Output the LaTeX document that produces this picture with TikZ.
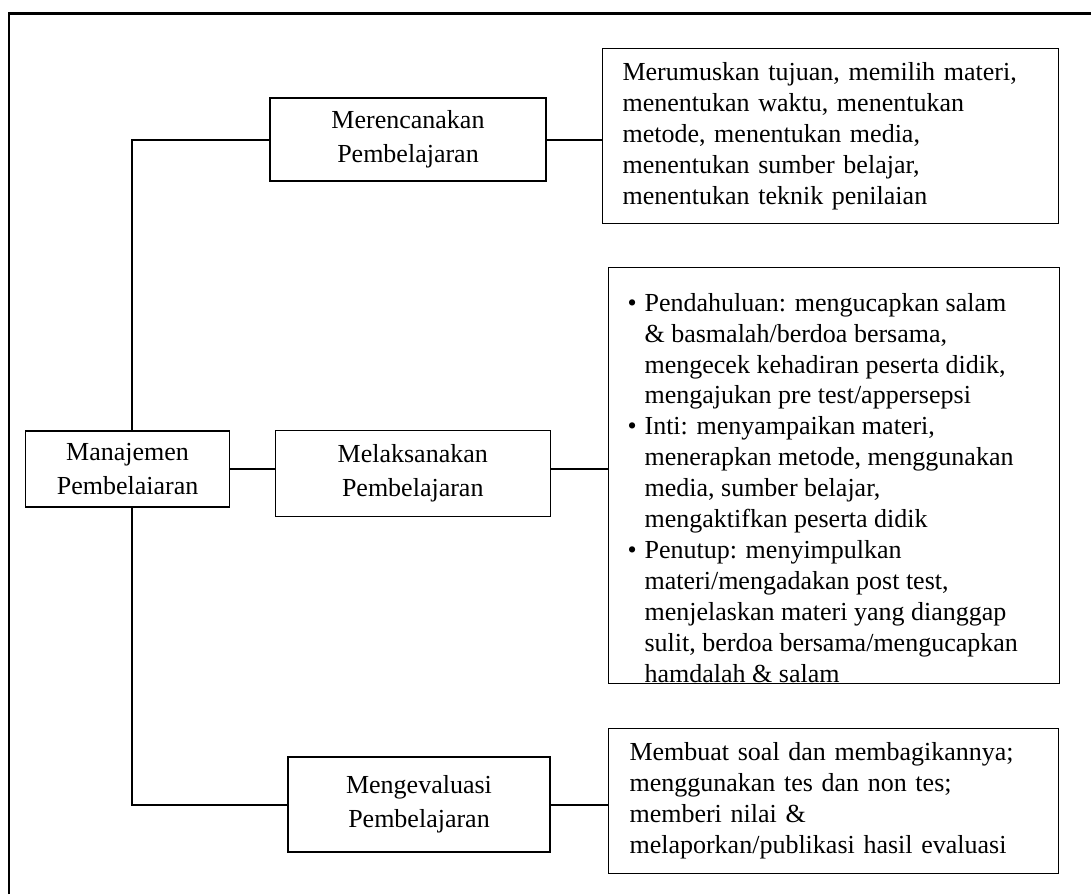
\documentclass[tikz,border=0pt]{standalone}
\usepackage{fontspec}
\setmainfont{Liberation Serif}
\usetikzlibrary{positioning}

\tikzset{every picture/.style={line width=0.75pt}}
\tikzset{
  kotak/.style={draw, line width=0.8pt, align=center, inner sep=0pt, font=\fontsize{19.5}{25.5}\selectfont},
  isian/.style={draw, line width=0.8pt, anchor=north west, align=left, inner ysep=0pt, font=\fontsize{19.5}{23.2}\selectfont},
  garis/.style={line width=1.5pt}
}

\begin{document}
\begin{tikzpicture}[x=0.75pt,y=0.75pt,yscale=-1,xscale=1]
	\useasboundingbox (0,0) rectangle (1091,894);

	%Shape: Frame
	\draw [line width=2.2pt] (9,894) -- (9,13.5) -- (1091,13.5) ;

	% Text Node
	\node [kotak, minimum width=153pt, minimum height=57pt] (manajemen) at (127.6,469) {Manajemen\\Pembelaiaran};
	% Text Node
	\node [kotak, minimum width=207pt, minimum height=62.25pt] (rencana) at (408,139.5) {Merencanakan\\Pembelajaran};
	% Text Node
	\node [kotak, minimum width=206pt, minimum height=64.5pt] (laksana) at (412.75,473.5) {Melaksanakan\\Pembelajaran};
	% Text Node
	\node [kotak, minimum width=196.5pt, minimum height=71.25pt] (evaluasi) at (419,804.5) {Mengevaluasi\\Pembelajaran};

	% Text Node
	\node [isian, text width=312pt, inner xsep=15pt, minimum height=131.25pt] (isi1) at (602,48) {Merumuskan tujuan, memilih materi,\\menentukan waktu, menentukan\\metode, menentukan media,\\menentukan sumber belajar,\\menentukan teknik penilaian};
	% Text Node
	\node [isian, text width=304pt, inner xsep=17pt, minimum height=312pt] (isi2) at (608,267) {};
	\begin{scope}
		\clip (isi2.north west) rectangle (isi2.south east);
		\node [anchor=north west, inner sep=0pt, font=\fontsize{19.5}{23.2}\selectfont] (butir) at (627,289) {%
			\begin{tabular}{@{}l@{\hspace{6pt}}l@{}}
			\textbullet & Pendahuluan: mengucapkan salam\\
			 & \& basmalah/berdoa bersama,\\
			 & mengecek kehadiran peserta didik,\\
			 & mengajukan pre test/appersepsi\\
			\textbullet & Inti: menyampaikan materi,\\
			 & menerapkan metode, menggunakan\\
			 & media, sumber belajar,\\
			 & mengaktifkan peserta didik\\
			\textbullet & Penutup: menyimpulkan\\
			 & materi/mengadakan post test,\\
			 & menjelaskan materi yang dianggap\\
			 & sulit, berdoa bersama/mengucapkan\\
			 & hamdalah \& salam
			\end{tabular}};
	\end{scope}
	% Text Node
	\node [isian, text width=306pt, inner xsep=15.75pt, minimum height=108.75pt] (isi3) at (608,728) {Membuat soal dan membagikannya;\\menggunakan tes dan non tes;\\memberi nilai \&\\melaporkan/publikasi hasil evaluasi};

	%Shape: Connectors
	\coordinate (batang) at (132,0);
	\draw [garis] (rencana.west) -- (rencana.west -| batang) -- (manajemen.north -| batang) ;
	\draw [garis] (manajemen.south -| batang) -- (evaluasi.west -| batang) -- (evaluasi.west) ;
	\draw [garis] (manajemen.east) -- (manajemen.east -| laksana.west) ;
	\draw [garis] (rencana.east) -- (rencana.east -| isi1.west) ;
	\draw [garis] (manajemen.east -| laksana.east) -- (manajemen.east -| isi2.west) ;
	\draw [garis] (evaluasi.east) -- (evaluasi.east -| isi3.west) ;

\end{tikzpicture}
\end{document}
